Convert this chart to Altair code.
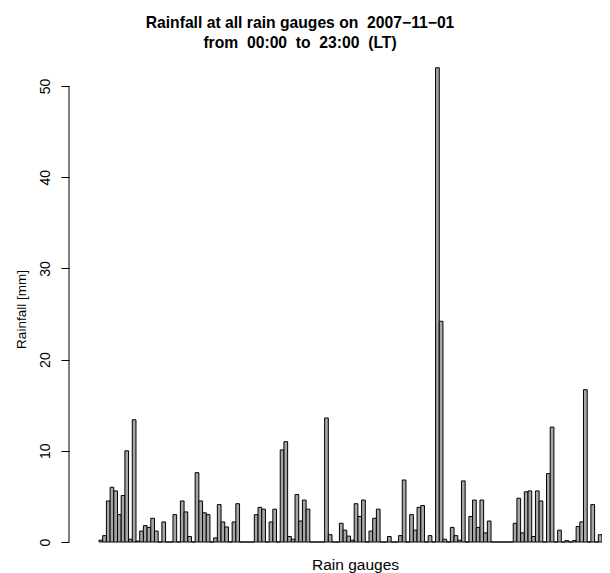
import altair as alt
import pandas as pd

# Rainfall (mm) per rain gauge, read left to right from the reference
rain = [
    0.2, 0.7, 4.5, 6.0, 5.6, 3.0, 5.1, 10.0, 0.3, 13.4,
    0.1, 1.2, 1.8, 1.6, 2.6, 1.2, 0.0, 2.2, 0.0, 0.0,
    3.0, 0.0, 4.5, 3.3, 0.6, 0.0, 7.6, 4.5, 3.2, 3.0,
    0.0, 0.45, 4.1, 2.2, 1.65, 0.0, 2.2, 4.2, 0.0, 0.0,
    0.0, 0.0, 3.0, 3.8, 3.6, 0.0, 2.2, 3.6, 0.0, 10.1,
    11.0, 0.6, 0.3, 5.2, 2.3, 4.6, 3.6, 0.0, 0.0, 0.0,
    0.0, 13.6, 0.8, 0.0, 0.0, 2.05, 1.3, 0.65, 0.2, 4.2,
    2.8, 4.6, 0.0, 1.2, 2.6, 3.6, 0.0, 0.0, 0.6, 0.0,
    0.0, 0.7, 6.8, 0.0, 3.0, 1.3, 3.8, 4.0, 0.0, 0.7,
    0.0, 52.0, 24.2, 0.3, 0.0, 1.6, 0.7, 0.2, 6.7, 0.0,
    2.8, 4.6, 1.6, 4.6, 1.0, 2.3, 0.0, 0.0, 0.0, 0.0,
    0.0, 0.0, 2.05, 4.8, 1.0, 5.5, 5.6, 0.6, 5.6, 4.5,
    0.0, 7.5, 12.6, 0.0, 1.3, 0.0, 0.15, 0.0, 0.15, 1.7,
    2.2, 16.7, 0.0, 4.1, 0.0, 0.8,
]
gauges = list(range(1, len(rain) + 1))
y_ticks = [0, 10, 20, 30, 40, 50]

df = pd.DataFrame({"gauge": gauges, "rain": rain})
axis_df = pd.DataFrame({"y0": [y_ticks[0]], "y1": [y_ticks[-1]]})

FONT = "Liberation Sans"
NB = "\u00a0"
yscale = alt.Scale(domain=[0, 52.63], nice=False, zero=True)

bars = alt.Chart(df).mark_bar(
    fill="#a6a6a6", stroke="black", strokeWidth=1, opacity=1
).encode(
    x=alt.X(
        "gauge:O",
        scale=alt.Scale(paddingInner=0, paddingOuter=0),
        axis=alt.Axis(
            title="Rain gauges", labels=False, ticks=False, domain=False,
            titleFont=FONT, titleFontSize=15.5, titleFontWeight="normal",
            titleColor="black", titleX=256, titleY=27, titleAlign="center",
            titleBaseline="alphabetic",
        ),
    ),
    y=alt.Y(
        "rain:Q",
        scale=yscale,
        axis=alt.Axis(
            values=y_ticks, title="Rainfall [mm]", grid=False, domain=False,
            offset=30, tickSize=8, tickColor="black", tickWidth=1,
            labelAngle=270, labelAlign="center", labelBaseline="alphabetic",
            labelPadding=12, labelFont=FONT, labelFontSize=14, labelColor="black",
            titleFont=FONT, titleFontSize=13.5, titleFontWeight="normal",
            titleColor="black", titleX=-44, titleY=247, titleBaseline="alphabetic",
            titleAngle=270,
        ),
    ),
)

axis_line = alt.Chart(axis_df).mark_rule(color="black", strokeWidth=1).encode(
    x=alt.value(-30),
    y=alt.Y("y0:Q", scale=yscale),
    y2="y1:Q",
)

chart = alt.layer(bars, axis_line).properties(
    width=503,
    height=480,
    title=alt.TitleParams(
        text=["Rainfall at all rain gauges on " + NB + "2007\u221211\u221201",
              "from " + NB + "00:00 " + NB + "to " + NB + "23:00 " + NB + "(LT)"],
        font=FONT, fontSize=15.7, fontWeight="bold", color="black",
        anchor="middle", dx=-50.5, lineHeight=20, offset=10,
    ),
    autosize=alt.AutoSizeParams(type="none"),
    padding={"left": 91, "top": 54, "right": 0, "bottom": 31},
    background="white",
).configure_view(strokeWidth=0)

chart.save("out.html", embed_options={"renderer": "svg", "actions": False})
